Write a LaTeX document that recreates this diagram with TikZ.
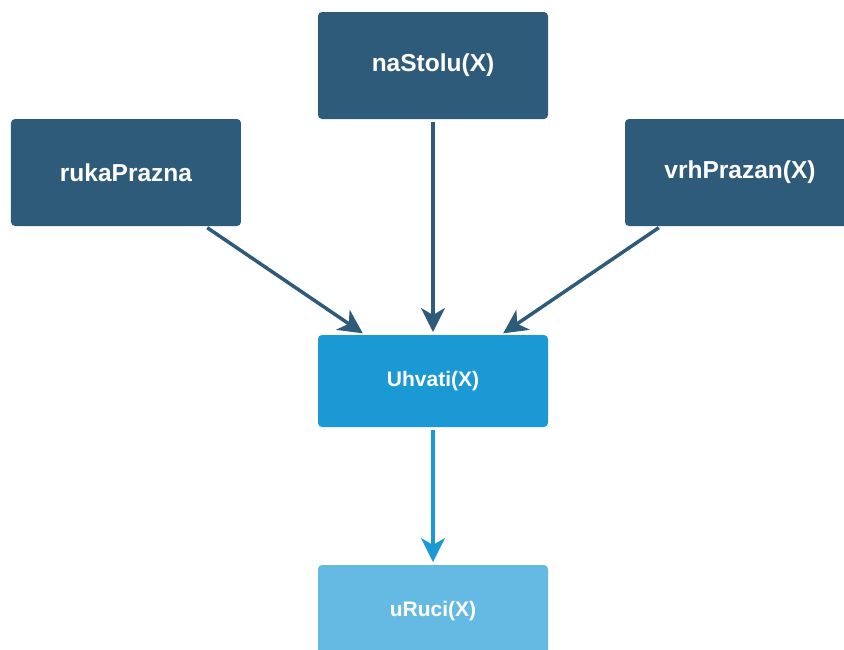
\documentclass[tikz,border=0pt]{standalone}
\usepackage{fontspec}
\setmainfont{Liberation Sans}
\usetikzlibrary{
  arrows.meta,
  positioning,
}
\definecolor{tamna}{HTML}{2F5B7B}
\definecolor{plava}{HTML}{1A99D4}
\definecolor{svijetla}{HTML}{64BAE2}

\begin{document}
\begin{tikzpicture}[
    node distance=2em,
    n/.style={
      fill=tamna, text=white, font=\bfseries\fontsize{12.25}{14}\selectfont,
      minimum width=115pt, minimum height=53.5pt,
      rounded corners=2pt, inner sep=0pt, outer sep=0pt,
    },
    m/.style={fill=plava, minimum height=46pt,
      font=\bfseries\fontsize{10.5}{12}\selectfont},
    l/.style={fill=svijetla, minimum height=46pt,
      font=\bfseries\fontsize{10.5}{12}\selectfont},
    a/.style={-{Stealth[length=12pt,width=12pt,inset=3.5pt]},
      line width=1.75pt, draw=tamna, shorten <=1.5pt, shorten >=1.5pt},
    b/.style={a, draw=plava},]
  \useasboundingbox (-216.5pt,32.75pt) rectangle (205.5pt,-291.75pt);
  \node[n](Stol){naStolu(X)};
  \node[n,left=38.5pt of Stol.south west, anchor=north east](Ruka){rukaPrazna};
  \node[n,right=38.5pt of Stol.south east, anchor=north west](Vrh){vrhPrazan(X)};
  \node[n,m,below=108pt of Stol](Uhvati){Uhvati(X)};
  \node[n,l,below=69pt of Uhvati](URuci){uRuci(X)};
  %%
  \draw[a](Ruka) -- (Uhvati);
  \draw[a](Stol) -- (Uhvati);
  \draw[a](Vrh) -- (Uhvati);
  %%
  \draw[b](Uhvati) -- (URuci);
\end{tikzpicture}
\end{document}
